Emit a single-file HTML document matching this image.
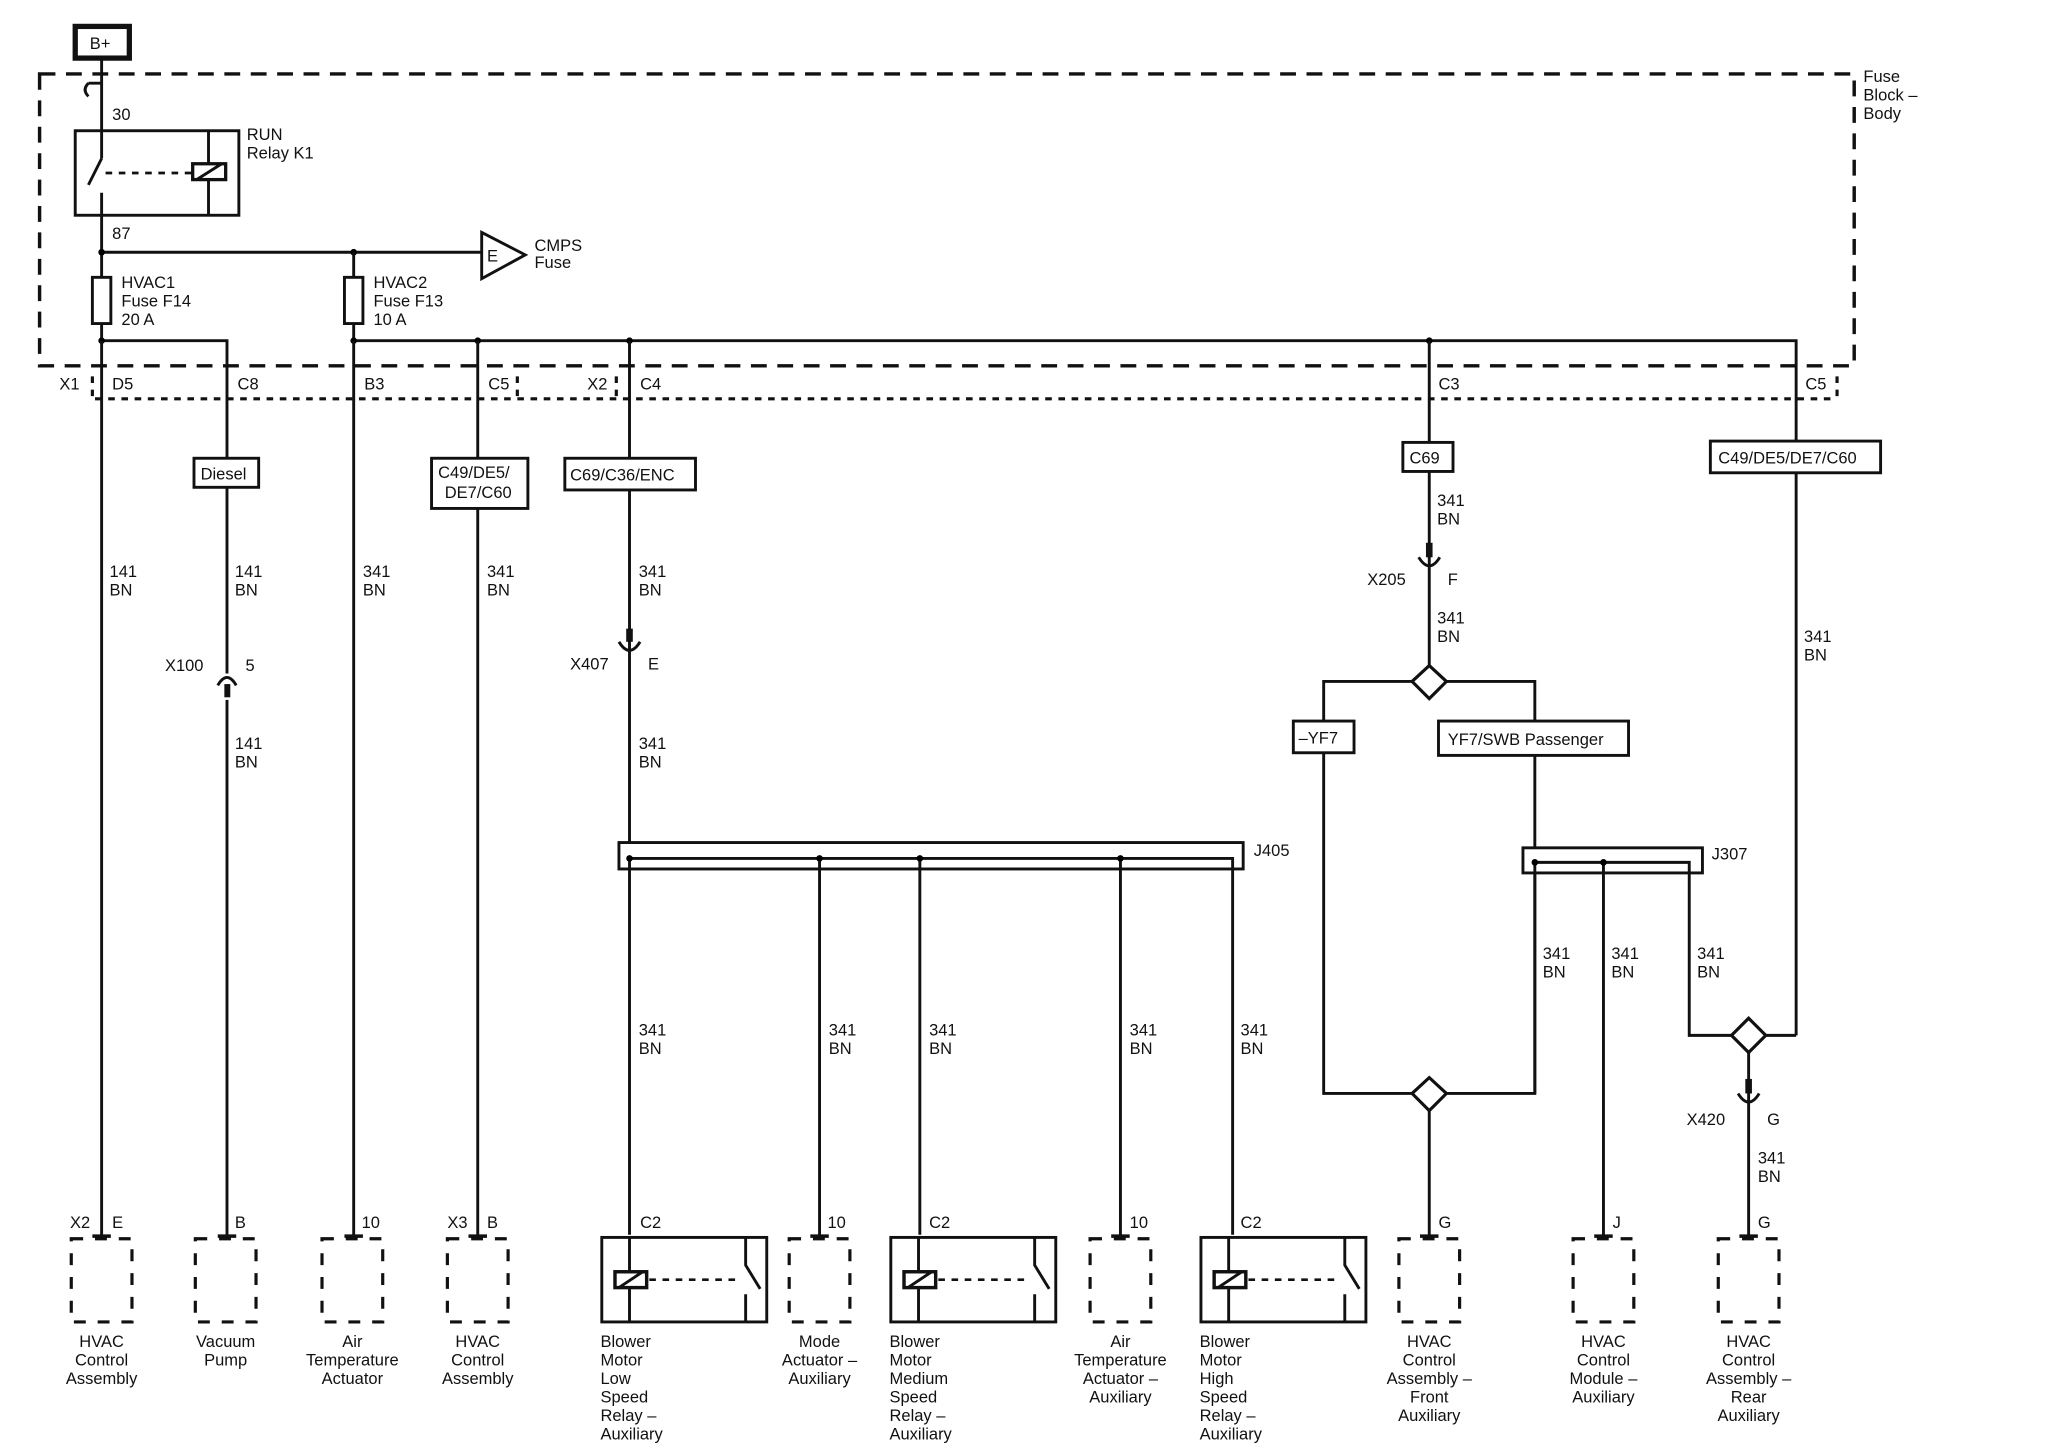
<!DOCTYPE html>
<html><head><meta charset="utf-8"><style>
html,body{margin:0;padding:0;background:#fff}
svg{display:block}
text{font-family:"Liberation Sans",Arial,sans-serif;font-size:12.5px;fill:#111}
.w{stroke:#111;stroke-width:2.2;fill:none}
.t{stroke:#111;stroke-width:2.6;fill:none}
.d{stroke:#111;stroke-width:2.6;fill:none;stroke-dasharray:12 8}
.db{stroke:#111;stroke-width:2.4;fill:none;stroke-dasharray:9 9}
.dt{stroke:#111;stroke-width:2.4;fill:none;stroke-dasharray:5 5}
.m text{text-anchor:middle}
</style></head><body>
<svg width="2068" height="1454" viewBox="0 0 1567 1101" preserveAspectRatio="none" xmlns="http://www.w3.org/2000/svg">
<rect x="57" y="20" width="41" height="24" fill="none" stroke="#111" stroke-width="4"/>
<text x="68" y="37">B+</text>
<path class="d" d="M30 56 H1405 V277 H30 Z"/>
<text x="1412" y="62">Fuse</text><text x="1412" y="76">Block –</text><text x="1412" y="90">Body</text>
<path class="dt" d="M72 302 H1392"/>
<path class="dt" d="M70 285 V300 M392 285 V300 M467 285 V300 M1392 285 V300"/>
<path class="w" d="M77 45 V120 M67 140 L77 120 M77 146 V258"/>
<path class="w" d="M77 63 H67 M67 63 Q62 68 67 73"/>
<text x="85" y="91">30</text>
<rect x="57" y="99" width="124" height="64" class="w"/>
<path class="w" d="M158 99 V163"/>
<path class="dt" d="M80 131 H146" style="stroke-width:2"/>
<rect x="146" y="124" width="25" height="12" fill="#fff" stroke="#111" stroke-width="2.5"/>
<path class="w" d="M149 136 L168 124"/>
<text x="187" y="106">RUN</text><text x="187" y="120">Relay K1</text>
<text x="85" y="181">87</text>
<path class="w" d="M77 191 H365"/>
<circle cx="77" cy="191" r="2.5"/><circle cx="268" cy="191" r="2.5"/>
<path class="w" d="M365 176 V211 L398 193 Z" style="fill:#fff"/>
<text x="369" y="198">E</text>
<text x="405" y="190">CMPS</text><text x="405" y="203">Fuse</text>
<path class="w" d="M268 191 V258"/>
<path class="w" d="M77 258 H172 V935 M268 258 H1361 V784"/>
<circle cx="77" cy="258" r="2.5"/><circle cx="268" cy="258" r="2.5"/><circle cx="362" cy="258" r="2.5"/><circle cx="477" cy="258" r="2.5"/><circle cx="1083" cy="258" r="2.5"/>
<path class="w" d="M77 258 V935 M268 258 V935 M362 258 V935 M477 258 V650 M1083 258 V516"/>
<rect x="70" y="210" width="14" height="35" class="w" style="fill:#fff"/>
<rect x="261" y="210" width="14" height="35" class="w" style="fill:#fff"/>
<text x="92" y="218">HVAC1</text><text x="92" y="232">Fuse F14</text><text x="92" y="246">20 A</text>
<text x="283" y="218">HVAC2</text><text x="283" y="232">Fuse F13</text><text x="283" y="246">10 A</text>
<text x="45" y="295">X1</text><text x="85" y="295">D5</text><text x="180" y="295">C8</text><text x="276" y="295">B3</text><text x="370" y="295">C5</text><text x="445" y="295">X2</text><text x="485" y="295">C4</text><text x="1090" y="295">C3</text><text x="1368" y="295">C5</text>
<rect x="147" y="347" width="49" height="22" class="w" style="fill:#fff"/><text x="152" y="363">Diesel</text>
<rect x="327" y="347" width="73" height="38" class="w" style="fill:#fff"/><text x="332" y="362">C49/DE5/</text><text x="337" y="377">DE7/C60</text>
<rect x="428" y="347" width="99" height="24" class="w" style="fill:#fff"/><text x="432" y="364">C69/C36/ENC</text>
<rect x="1063" y="335" width="38" height="22" class="w" style="fill:#fff"/><text x="1068" y="351">C69</text>
<rect x="1296" y="334" width="129" height="24" class="w" style="fill:#fff"/><text x="1302" y="351">C49/DE5/DE7/C60</text>
<g>
<text x="83" y="437">141</text><text x="83" y="451">BN</text>
<text x="178" y="437">141</text><text x="178" y="451">BN</text>
<text x="275" y="437">341</text><text x="275" y="451">BN</text>
<text x="369" y="437">341</text><text x="369" y="451">BN</text>
<text x="484" y="437">341</text><text x="484" y="451">BN</text>
<text x="178" y="567">141</text><text x="178" y="581">BN</text>
<text x="484" y="567">341</text><text x="484" y="581">BN</text>
<text x="1089" y="383">341</text><text x="1089" y="397">BN</text>
<text x="1089" y="472">341</text><text x="1089" y="486">BN</text>
<text x="1367" y="486">341</text><text x="1367" y="500">BN</text>
<text x="484" y="784">341</text><text x="484" y="798">BN</text>
<text x="628" y="784">341</text><text x="628" y="798">BN</text>
<text x="704" y="784">341</text><text x="704" y="798">BN</text>
<text x="856" y="784">341</text><text x="856" y="798">BN</text>
<text x="940" y="784">341</text><text x="940" y="798">BN</text>
<text x="1169" y="726">341</text><text x="1169" y="740">BN</text>
<text x="1221" y="726">341</text><text x="1221" y="740">BN</text>
<text x="1286" y="726">341</text><text x="1286" y="740">BN</text>
<text x="1332" y="881">341</text><text x="1332" y="895">BN</text>
</g>
<rect x="167" y="510" width="10" height="20" fill="#fff"/>
<path class="w" d="M165 519 Q172 507 179 519"/><rect x="170" y="518" width="4.5" height="10" fill="#111"/>
<text x="125" y="508">X100</text><text x="186" y="508">5</text>
<g fill="#111">
<rect x="474.5" y="476" width="5" height="10"/><rect x="1080.5" y="411" width="5" height="11"/><rect x="1322.5" y="817" width="5" height="11"/>
</g>
<path class="w" d="M469 486 Q477 499 485 486 M1075 422 Q1083 435 1091 422 M1317 828 Q1325 841 1333 828"/>
<text x="432" y="507">X407</text><text x="491" y="507">E</text>
<text x="1036" y="443">X205</text><text x="1097" y="443">F</text>
<text x="1278" y="852">X420</text><text x="1339" y="852">G</text>
<path class="w" d="M1003 558 V516 H1163 V828 H1003 V558"/>
<path class="w" d="M1083 828 V935"/>
<path d="M1083 504 L1096 516 L1083 529 L1070 516 Z" fill="#fff" stroke="#111" stroke-width="2.4"/>
<path d="M1083 816 L1096 828 L1083 841 L1070 828 Z" fill="#fff" stroke="#111" stroke-width="2.4"/>
<rect x="980" y="546" width="46" height="24" class="w" style="fill:#fff"/><text x="984" y="563">–YF7</text>
<rect x="1090" y="546" width="144" height="26" class="w" style="fill:#fff"/><text x="1097" y="564">YF7/SWB Passenger</text>
<rect x="1154" y="642" width="136" height="19" class="w" style="fill:#fff"/>
<path class="w" d="M1163 653 H1280 V784 H1361 M1215 653 V935 M1163 653 V828"/>
<circle cx="1163" cy="653" r="2.5"/><circle cx="1215" cy="653" r="2.5"/>
<text x="1297" y="651">J307</text>
<path d="M1325 771 L1338 784 L1325 797 L1312 784 Z" fill="#fff" stroke="#111" stroke-width="2.4"/>
<path class="w" d="M1325 797 V935"/>
<rect x="469" y="638" width="473" height="20" class="w" style="fill:#fff"/>
<path class="w" d="M477 650 H934 V935 M477 650 V935 M621 650 V935 M697 650 V935 M849 650 V935"/>
<circle cx="477" cy="650" r="2.5"/><circle cx="621" cy="650" r="2.5"/><circle cx="697" cy="650" r="2.5"/><circle cx="849" cy="650" r="2.5"/>
<text x="950" y="648">J405</text>
<text x="53" y="930">X2</text><text x="85" y="930">E</text>
<text x="178" y="930">B</text><text x="274" y="930">10</text>
<text x="339" y="930">X3</text><text x="369" y="930">B</text>
<text x="485" y="930">C2</text><text x="627" y="930">10</text>
<text x="704" y="930">C2</text><text x="856" y="930">10</text>
<text x="940" y="930">C2</text><text x="1090" y="930">G</text>
<text x="1222" y="930">J</text><text x="1332" y="930">G</text>
<path class="t" d="M70 936 H84 M165 936 H179 M261 936 H275 M355 936 H369 M614 936 H628 M842 936 H856 M1076 936 H1090 M1208 936 H1222 M1318 936 H1332"/>
<g class="db">
<rect x="54" y="938" width="46" height="63"/><rect x="148" y="938" width="46" height="63"/><rect x="244" y="938" width="46" height="63"/><rect x="339" y="938" width="46" height="63"/>
<rect x="598" y="938" width="46" height="63"/><rect x="826" y="938" width="46" height="63"/><rect x="1060" y="938" width="46" height="63"/><rect x="1192" y="938" width="46" height="63"/><rect x="1302" y="938" width="46" height="63"/>
</g>
<g id="r1">
<rect x="456" y="937" width="125" height="64" class="w"/>
<path class="w" d="M477 937 V1001 M565 937 V958 L576 976 M565 980 V1001"/>
<rect x="466" y="963" width="24" height="12" fill="#fff" stroke="#111" stroke-width="2.6"/>
<path class="w" d="M469 975 L487 963"/>
<path class="dt" d="M492 969 H562" style="stroke-width:2"/>
</g>
<use href="#r1" x="219"/>
<use href="#r1" x="454"/>
<g class="m">
<text x="77" y="1020">HVAC</text><text x="77" y="1034">Control</text><text x="77" y="1048">Assembly</text>
<text x="171" y="1020">Vacuum</text><text x="171" y="1034">Pump</text>
<text x="267" y="1020">Air</text><text x="267" y="1034">Temperature</text><text x="267" y="1048">Actuator</text>
<text x="362" y="1020">HVAC</text><text x="362" y="1034">Control</text><text x="362" y="1048">Assembly</text>
<text x="621" y="1020">Mode</text><text x="621" y="1034">Actuator –</text><text x="621" y="1048">Auxiliary</text>
<text x="849" y="1020">Air</text><text x="849" y="1034">Temperature</text><text x="849" y="1048">Actuator –</text><text x="849" y="1062">Auxiliary</text>
<text x="1083" y="1020">HVAC</text><text x="1083" y="1034">Control</text><text x="1083" y="1048">Assembly –</text><text x="1083" y="1062">Front</text><text x="1083" y="1076">Auxiliary</text>
<text x="1215" y="1020">HVAC</text><text x="1215" y="1034">Control</text><text x="1215" y="1048">Module –</text><text x="1215" y="1062">Auxiliary</text>
<text x="1325" y="1020">HVAC</text><text x="1325" y="1034">Control</text><text x="1325" y="1048">Assembly –</text><text x="1325" y="1062">Rear</text><text x="1325" y="1076">Auxiliary</text>
</g>
<text x="455" y="1020">Blower</text><text x="455" y="1034">Motor</text><text x="455" y="1048">Low</text><text x="455" y="1062">Speed</text><text x="455" y="1076">Relay –</text><text x="455" y="1090">Auxiliary</text>
<text x="674" y="1020">Blower</text><text x="674" y="1034">Motor</text><text x="674" y="1048">Medium</text><text x="674" y="1062">Speed</text><text x="674" y="1076">Relay –</text><text x="674" y="1090">Auxiliary</text>
<text x="909" y="1020">Blower</text><text x="909" y="1034">Motor</text><text x="909" y="1048">High</text><text x="909" y="1062">Speed</text><text x="909" y="1076">Relay –</text><text x="909" y="1090">Auxiliary</text>
</svg>
</body></html>
